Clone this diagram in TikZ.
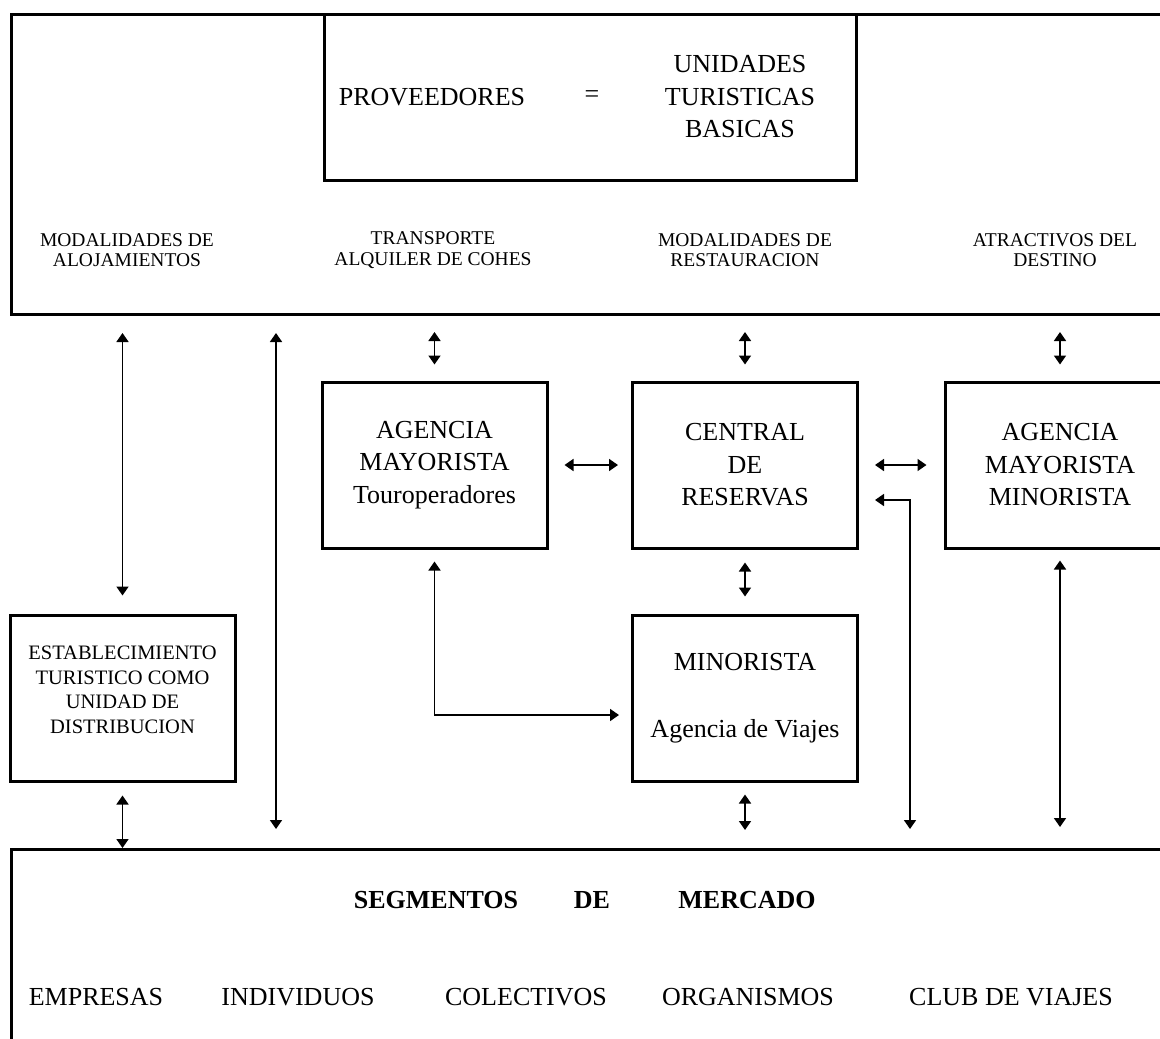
\documentclass[tikz,border=0pt]{standalone}
\usepackage{fontspec}
\setmainfont{Liberation Serif}
\usetikzlibrary{arrows.meta,calc}

\begin{document}
\begin{tikzpicture}[x=1pt, y=-1pt,
	box/.style={draw, line width=3pt, minimum width=225pt, minimum height=166pt, inner sep=0pt, align=center, font=\fontsize{26}{32.5}\selectfont},
	frame/.style={draw, line width=3pt, inner sep=0pt, anchor=north west},
	big/.style={font=\fontsize{26}{32.5}\selectfont, align=center, inner sep=0pt},
	small/.style={font=\fontsize{19.5}{20.5}\selectfont, align=center, inner sep=0pt},
	link/.style={line width=1.7pt, {Triangle[length=9pt,width=12pt]}-{Triangle[length=9pt,width=12pt]}, shorten <=16pt, shorten >=16pt}]
		\useasboundingbox (0,0) rectangle (1160,1039);
		\clip (0,0) rectangle (1160,1039);
		%frames
		\node[frame, minimum width=1200pt, minimum height=300pt] (prov) at (10,13) {};
		\node[frame, minimum width=532pt, minimum height=166pt] (basic) at (323,13) {};
		\node[frame, minimum width=1200pt, minimum height=250pt] (mercado) at (10,848) {};
		%proveedores
		\node[big] (provtxt) at (432,97) {PROVEEDORES};
		\node[big] (eq) at (592,97) {=};
		\node[big] (unid) at (740,97) {UNIDADES\\TURISTICAS\\BASICAS};
		\node[small] (aloj) at (127,250) {MODALIDADES DE\\ALOJAMIENTOS};
		\node[small] (transp) at (433,250) {TRANSPORTE\\ALQUILER DE COHES};
		\node[small] (rest) at (745,250) {MODALIDADES DE\\RESTAURACION};
		\node[small] (atrac) at (1055,250) {ATRACTIVOS DEL\\DESTINO};
		%boxes
		\node[box] (agmay) at (434.5,465) {AGENCIA\\MAYORISTA\\Touroperadores};
		\node[box] (central) at (745,465) {CENTRAL\\DE\\RESERVAS};
		\node[box, minimum width=230pt] (agmin) at (1060,465) {AGENCIA\\MAYORISTA\\MINORISTA};
		\node[box] (minor) at (745,698) {MINORISTA\\[34pt]Agencia de Viajes};
		\node[box, font=\fontsize{20.5}{24.5}\selectfont] (estab) at (122.5,698) {ESTABLECIMIENTO\\TURISTICO COMO\\UNIDAD DE\\DISTRIBUCION\\[-8pt]};
		%segmentos
		\node[big, font=\fontsize{26}{32.5}\selectfont\bfseries] (seg) at (436,900) {SEGMENTOS};
		\node[big, font=\fontsize{26}{32.5}\selectfont\bfseries] (segde) at (592,900) {DE};
		\node[big, font=\fontsize{26}{32.5}\selectfont\bfseries] (merc) at (747,900) {MERCADO};
		\node[big] (empr) at (96,997) {EMPRESAS};
		\node[big] (indiv) at (298,997) {INDIVIDUOS};
		\node[big] (colec) at (526,997) {COLECTIVOS};
		\node[big] (organ) at (748,997) {ORGANISMOS};
		\node[big] (club) at (1011,997) {CLUB DE VIAJES};
		%arrows
		\coordinate (colA) at (276,0);
		\coordinate (colB) at (910,0);
		\draw[link, shorten <=17pt, shorten >=18pt] (prov.south -| estab.north) -- (estab.north);
		\draw[link, shorten <=17pt, shorten >=19pt] (prov.south -| colA) -- (mercado.north -| colA);
		\draw[link, shorten <=13pt, shorten >=0pt] (estab.south) -- (mercado.north -| estab.south);
		\foreach \n in {agmay,central,agmin}
		\draw[link] (prov.south -| \n.north) -- (\n.north);
		\draw[link, shorten >=13pt] (agmay.east) -- (central.west);
		\draw[link, shorten >=17pt] (central.east) -- (agmin.west);
		\draw[link, shorten <=13pt, shorten >=17pt] (central.south) -- (minor.north);
		\draw[link, shorten <=12pt, shorten >=18pt] (minor.south) -- (mercado.north -| minor.south);
		\draw[link, shorten <=11pt, shorten >=21pt] (agmin.south) -- (mercado.north -| agmin.south);
		\draw[link, shorten <=12pt, shorten >=12pt] (agmay.south) |- ([yshift=-17pt]minor.west);
		\draw[link, shorten <=19pt, shorten >=16pt] (mercado.north -| colB) |- ([yshift=-35pt]central.east);
\end{tikzpicture}
\end{document}
